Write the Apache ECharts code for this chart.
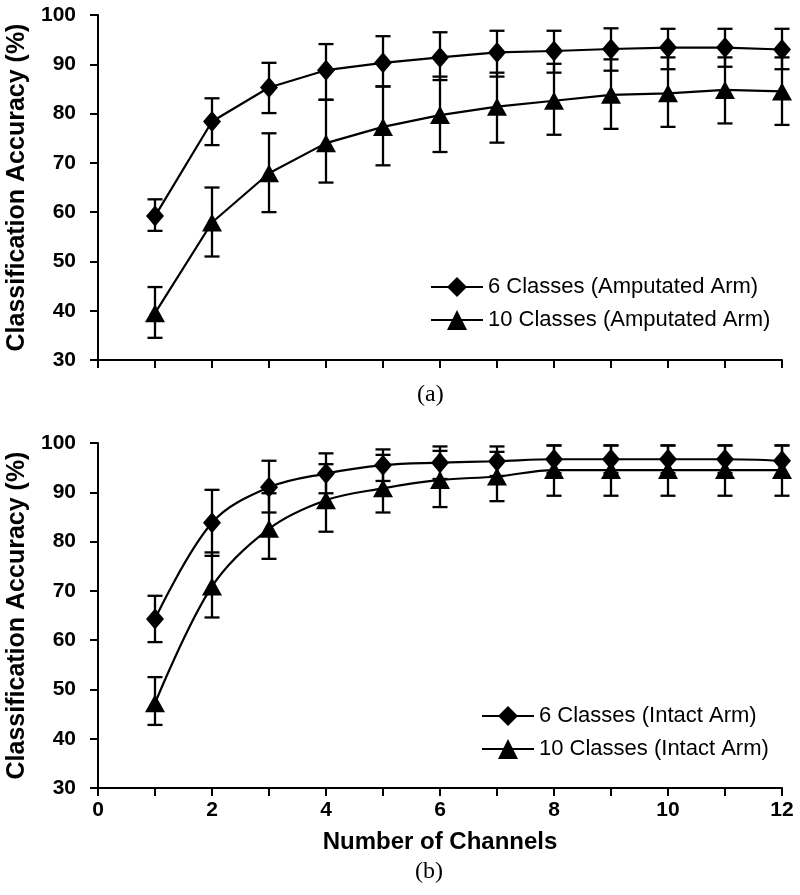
<!DOCTYPE html>
<html>
<head>
<meta charset="utf-8">
<script src="https://cdn.jsdelivr.net/npm/echarts@6/dist/echarts.min.js"></script>
<style>
html,body{margin:0;padding:0;background:#fff;}
#chart{width:800px;height:895px;}
</style>
</head>
<body>
<div id="chart"></div>
<script>
// ---- data ----
const channels = [1, 2, 3, 4, 5, 6, 7, 8, 9, 10, 11, 12];
const xTickLabels = ['0', '2', '4', '6', '8', '10', '12'];

// (a) amputated arm
const sixAmpMean = [59.2, 78.4, 85.3, 88.8, 90.3, 91.4, 92.4, 92.7, 93.1, 93.4, 93.4, 93.0];
const sixAmpHigh = [62.6, 83.1, 90.3, 94.1, 95.7, 96.5, 96.8, 96.8, 97.3, 97.2, 97.2, 97.2];
const sixAmpLow  = [56.2, 73.6, 80.1, 82.8, 85.5, 86.8, 87.5, 88.3, 88.7, 89.0, 89.5, 89.0];
const tenAmpMean = [39.5, 57.9, 67.9, 74.0, 77.3, 79.7, 81.4, 82.6, 83.8, 84.1, 84.8, 84.5];
const tenAmpHigh = [44.8, 65.0, 76.0, 82.8, 85.5, 87.5, 88.3, 90.1, 91.0, 91.4, 91.4, 91.4];
const tenAmpLow  = [34.5, 51.0, 60.0, 66.0, 69.5, 72.2, 74.1, 75.7, 76.9, 77.3, 78.0, 77.7];

// (b) intact arm
const sixIntMean = [64.3, 83.8, 91.0, 93.8, 95.5, 96.0, 96.3, 96.7, 96.7, 96.7, 96.7, 96.4];
const sixIntHigh = [69.0, 90.5, 96.4, 97.9, 98.7, 99.3, 99.3, 99.5, 99.5, 99.5, 99.5, 99.5];
const sixIntLow  = [59.6, 77.1, 85.9, 89.8, 92.3, 92.7, 93.3, 93.9, 93.9, 93.9, 93.9, 93.3];
const tenIntMean = [47.2, 70.9, 82.6, 88.4, 90.8, 92.5, 93.2, 94.5, 94.5, 94.5, 94.5, 94.5];
const tenIntHigh = [52.5, 77.8, 89.8, 95.7, 97.6, 98.4, 98.2, 99.5, 99.5, 99.5, 99.5, 99.5];
const tenIntLow  = [42.8, 64.6, 76.5, 82.0, 85.9, 87.0, 88.2, 89.3, 89.3, 89.3, 89.3, 89.3];

const names = {
  sixAmp: '6 Classes (Amputated Arm)',
  tenAmp: '10 Classes (Amputated Arm)',
  sixInt: '6 Classes (Intact Arm)',
  tenInt: '10 Classes (Intact Arm)'
};
const yTitle = 'Classification Accuracy (%)';
const xTitle = 'Number of Channels';

// ---- build ----
const SANS = 'Liberation Sans, Arial, sans-serif';
const SERIF = 'Liberation Serif, Times New Roman, serif';

function pts(mean) { return channels.map((c, i) => [c, mean[i]]); }
function errs(lo, hi) { return channels.map((c, i) => [c, lo[i], hi[i]]); }

function errRender(params, api) {
  const x = api.value(0);
  const pLo = api.coord([x, api.value(1)]);
  const pHi = api.coord([x, api.value(2)]);
  const w = 7.5;
  const st = { stroke: '#000', lineWidth: 2.3 };
  return {
    type: 'group',
    children: [
      { type: 'line', shape: { x1: pLo[0], y1: pLo[1], x2: pHi[0], y2: pHi[1] }, style: st },
      { type: 'line', shape: { x1: pHi[0] - w, y1: pHi[1], x2: pHi[0] + w, y2: pHi[1] }, style: st },
      { type: 'line', shape: { x1: pLo[0] - w, y1: pLo[1], x2: pLo[0] + w, y2: pLo[1] }, style: st }
    ]
  };
}

function errSeries(idx, lo, hi) {
  return {
    type: 'custom', xAxisIndex: idx, yAxisIndex: idx, z: 1,
    renderItem: errRender, data: errs(lo, hi), encode: { x: 0, y: [1, 2] },
    silent: true
  };
}

function lineSeries(idx, name, mean, sym, size, smooth) {
  return {
    type: 'line', name: name, xAxisIndex: idx, yAxisIndex: idx, z: 3,
    data: pts(mean), smooth: smooth,
    symbol: sym, symbolSize: size, showSymbol: true,
    lineStyle: { color: '#000', width: 2.2 },
    itemStyle: { color: '#000', borderWidth: 0 },
    emphasis: { disabled: true },
    animation: false
  };
}

function xAxisCfg(idx, showLabels) {
  return {
    type: 'value', gridIndex: idx, min: 0, max: 12, interval: 1,
    axisLine: { show: true, lineStyle: { color: '#000', width: 2 } },
    axisTick: { show: true, length: 8, lineStyle: { color: '#000', width: 2 } },
    splitLine: { show: false },
    axisLabel: {
      show: showLabels, margin: 12, color: '#000',
      fontFamily: SANS, fontWeight: 'bold', fontSize: 21,
      formatter: function (v) { return xTickLabels.indexOf(String(v)) >= 0 ? String(v) : ''; }
    },
    name: showLabels ? xTitle : '',
    nameLocation: 'middle', nameGap: 42,
    nameTextStyle: { color: '#000', fontFamily: SANS, fontWeight: 'bold', fontSize: 24 }
  };
}

function yAxisCfg(idx) {
  return {
    type: 'value', gridIndex: idx, min: 30, max: 100, interval: 10,
    axisLine: { show: true, lineStyle: { color: '#000', width: 2 } },
    axisTick: { show: true, length: 8, lineStyle: { color: '#000', width: 2 } },
    splitLine: { show: false },
    axisLabel: { margin: 22, color: '#000', fontFamily: SANS, fontWeight: 'bold', fontSize: 21 },
    name: yTitle, nameLocation: 'middle', nameRotate: 90, nameGap: 67,
    nameTextStyle: { color: '#000', fontFamily: SANS, fontWeight: 'bold', fontSize: 25 }
  };
}

function legendCfg(left, top, data) {
  return {
    left: left, top: top, orient: 'vertical', padding: 0,
    itemWidth: 52, itemHeight: 25, itemGap: 11,
    data: data,
    textStyle: { color: '#000', fontFamily: SANS, fontSize: 22 },
    selectedMode: false
  };
}

const option = {
  backgroundColor: '#fff',
  animation: false,
  grid: [
    { left: 98, top: 15, width: 684, height: 345, containLabel: false, outerBoundsMode: 'none' },
    { left: 98, top: 443, width: 684, height: 345, containLabel: false, outerBoundsMode: 'none' }
  ],
  xAxis: [xAxisCfg(0, false), xAxisCfg(1, true)],
  yAxis: [yAxisCfg(0), yAxisCfg(1)],
  legend: [
    legendCfg(430, 276, [names.sixAmp, names.tenAmp]),
    legendCfg(481, 705, [names.sixInt, names.tenInt])
  ],
  graphic: [
    { type: 'text', left: 417, top: 383, style: { text: '(a)', fill: '#000', font: '24px ' + SERIF } },
    { type: 'text', left: 415, top: 860, style: { text: '(b)', fill: '#000', font: '24px ' + SERIF } }
  ],
  series: [
    errSeries(0, sixAmpLow, sixAmpHigh),
    errSeries(0, tenAmpLow, tenAmpHigh),
    lineSeries(0, names.sixAmp, sixAmpMean, 'diamond', [18, 21], false),
    lineSeries(0, names.tenAmp, tenAmpMean, 'triangle', [20, 18], false),
    errSeries(1, sixIntLow, sixIntHigh),
    errSeries(1, tenIntLow, tenIntHigh),
    lineSeries(1, names.sixInt, sixIntMean, 'diamond', [18, 21], 0.35),
    lineSeries(1, names.tenInt, tenIntMean, 'triangle', [20, 18], 0.35)
  ]
};

const chart = echarts.init(document.getElementById('chart'), null, { renderer: 'canvas' });
chart.setOption(option);
</script>
</body>
</html>
